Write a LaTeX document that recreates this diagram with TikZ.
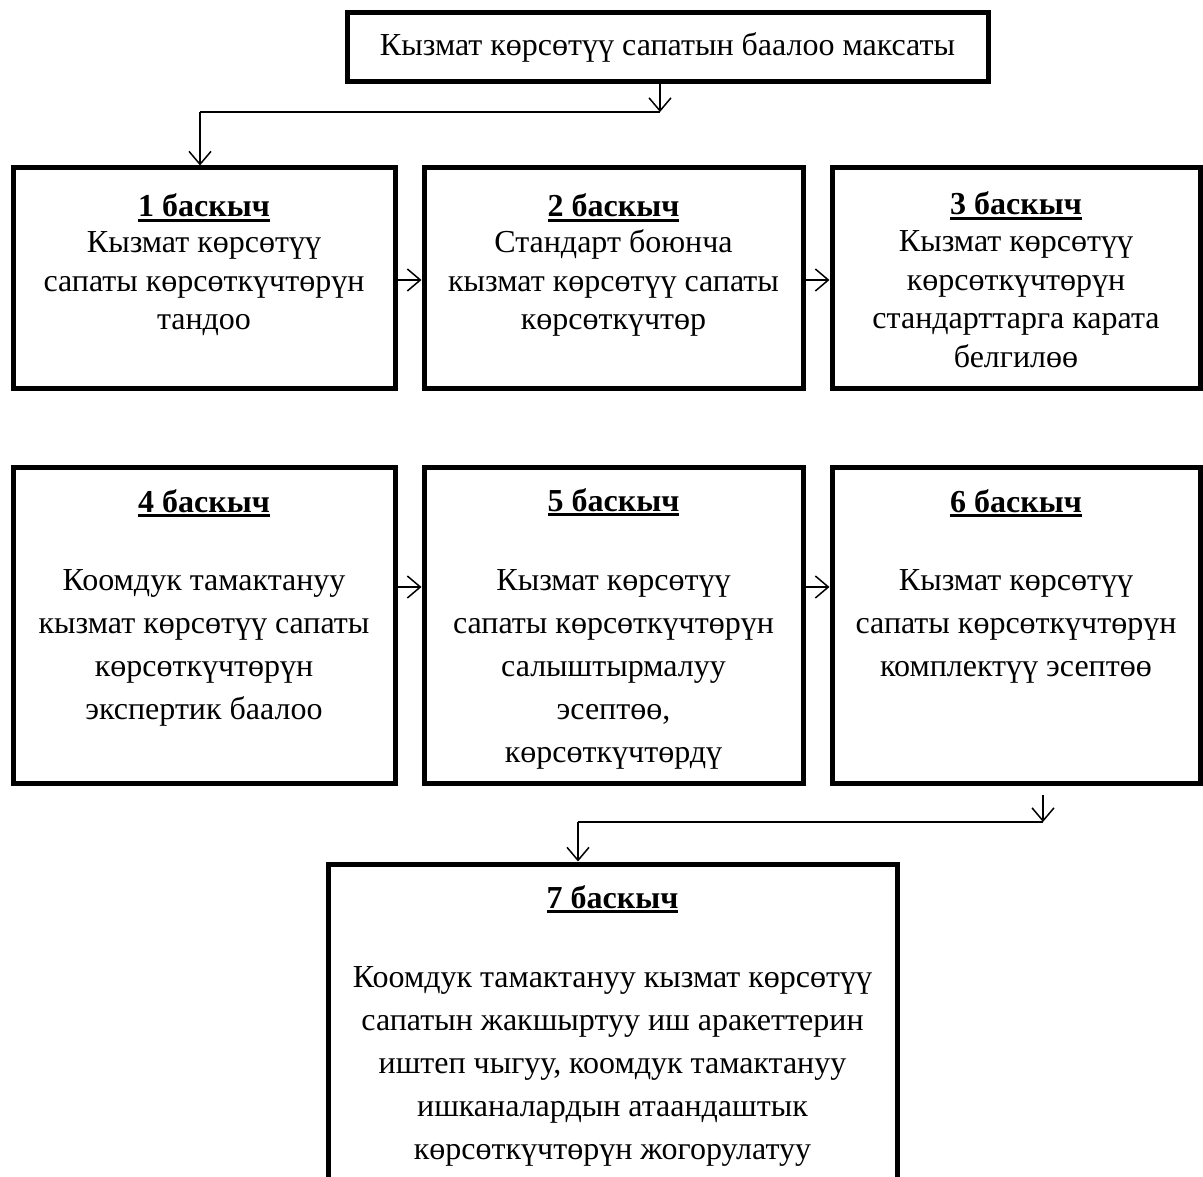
\documentclass[tikz,border=0pt]{standalone}
\usepackage{fontspec}
\setmainfont{Liberation Serif}
\usetikzlibrary{arrows.meta}
\newcommand\stephead[1]{\setbox0\hbox{\bfseries #1}\rlap{\rule[-5pt]{\wd0}{2.8pt}}\box0}
\tikzset{
  frame/.style={draw, line width=5pt, inner sep=0pt},
  headtxt/.style={anchor=base, inner sep=0pt, font=\fontsize{32}{38}\selectfont},
  bodyA/.style={anchor=base, align=flush center, inner sep=0pt, text width=#1, font=\fontsize{32}{38.5}\selectfont},
  bodyB/.style={anchor=base, align=flush center, inner sep=0pt, text width=#1, font=\fontsize{32}{43}\selectfont},
  conn/.style={line width=1.5pt, -{Straight Barb[length=13pt,width=22pt,line width=1.5pt]}},
  plainline/.style={line width=1.5pt}
}
\begin{document}
\begin{tikzpicture}[x=1pt,y=-1pt]
\useasboundingbox (0,0) rectangle (1203,1177);
% top box
\node[frame, minimum width=641pt, minimum height=69pt, font=\fontsize{32}{38}\selectfont] (top) at (667.5,47.5) {Кызмат көрсөтүү сапатын баалоо максаты};
% row 1
\node[frame, minimum width=382pt, minimum height=220pt] (b1) at (204,278) {};
\node[frame, minimum width=379pt, minimum height=220pt] (b2) at (613.5,278) {};
\node[frame, minimum width=368pt, minimum height=220pt] (b3) at (1016,278) {};
% row 2
\node[frame, minimum width=382pt, minimum height=316pt] (b4) at (204,625) {};
\node[frame, minimum width=379pt, minimum height=316pt] (b5) at (613.5,625) {};
\node[frame, minimum width=368pt, minimum height=316pt] (b6) at (1016,625) {};
% box 7
\node[frame, minimum width=569pt, minimum height=370pt] (b7) at (612.5,1049) {};

% headings
\node[headtxt] (h1) at (204,217) {\stephead{1 баскыч}};
\node[headtxt] (h2) at (613.5,217) {\stephead{2 баскыч}};
\node[headtxt] (h3) at (1016,215) {\stephead{3 баскыч}};
\node[headtxt] (h4) at (204,512) {\stephead{4 баскыч}};
\node[headtxt] (h5) at (613.5,511) {\stephead{5 баскыч}};
\node[headtxt] (h6) at (1016,512) {\stephead{6 баскыч}};
\node[headtxt] (h7) at (612.5,908) {\stephead{7 баскыч}};

% bodies
\node[bodyA=375pt] (d1) at (204,253) {Кызмат көрсөтүү\\сапаты көрсөткүчтөрүн\\тандоо};
\node[bodyA=375pt] (d2) at (613.5,253) {Стандарт боюнча\\кызмат көрсөтүү сапаты\\көрсөткүчтөр};
\node[bodyA=360pt] (d3) at (1016,252) {Кызмат көрсөтүү\\көрсөткүчтөрүн\\стандарттарга карата\\белгилөө};
\node[bodyB=375pt] (d4) at (204,590) {Коомдук тамактануу\\кызмат көрсөтүү сапаты\\көрсөткүчтөрүн\\экспертик баалоо};
\node[bodyB=375pt] (d5) at (613.5,590) {Кызмат көрсөтүү\\сапаты көрсөткүчтөрүн\\салыштырмалуу\\эсептөө,\\көрсөткүчтөрдү};
\node[bodyB=360pt] (d6) at (1016,590) {Кызмат көрсөтүү\\сапаты көрсөткүчтөрүн\\комплектүү эсептөө};
\node[bodyB=560pt] (d7) at (612.5,987) {Коомдук тамактануу кызмат көрсөтүү\\сапатын жакшыртуу иш аракеттерин\\иштеп чыгуу, коомдук тамактануу\\ишканалардын атаандаштык\\көрсөткүчтөрүн жогорулатуу};

% connectors
\coordinate (j1) at (660,112);
\coordinate (j2) at (200,112);
\draw[conn] (top.south -| j1) -- (j1);
\draw[plainline] (j1) -- (j2);
\draw[conn] (j2) -- (j2 |- b1.north);

\coordinate (r1) at (0,280);
\coordinate (r2) at (0,587);
\draw[conn] (b1.east |- r1) -- (b2.west |- r1);
\draw[conn] (b2.east |- r1) -- (b3.west |- r1);
\draw[conn] (b4.east |- r2) -- (b5.west |- r2);
\draw[conn] (b5.east |- r2) -- (b6.west |- r2);

\coordinate (k0) at (1043,795);
\coordinate (k1) at (1043,822);
\coordinate (k2) at (578,822);
\draw[conn] (k0) -- (k1);
\draw[plainline] (k1) -- (k2);
\draw[conn] (k2) -- (k2 |- b7.north);
\end{tikzpicture}
\end{document}
